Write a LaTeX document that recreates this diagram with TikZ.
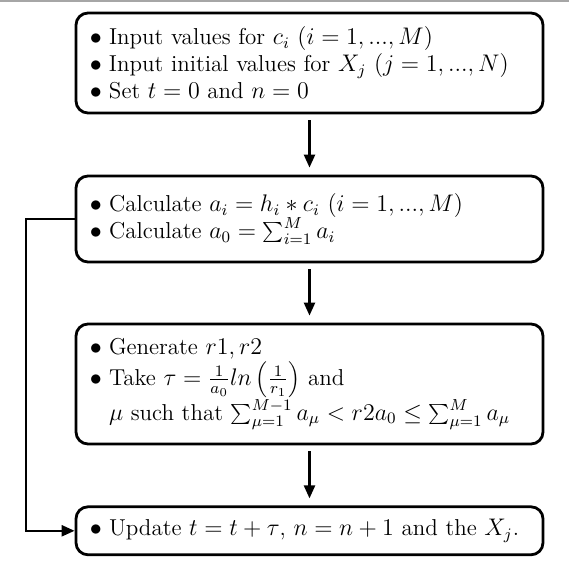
\documentclass[tikz,border=0pt]{standalone}
\usepackage{tikz}
\usetikzlibrary{arrows.meta}
\def\bul{\makebox[9.5pt][l]{$\bullet$}}
\tikzset{
	flowbox/.style={draw, line width=1.4pt, rounded corners=6pt, align=left, text width=219.5pt, inner xsep=7pt, inner ysep=0pt, font=\fontsize{11.5}{13.5}\selectfont},
	flowarrow/.style={line width=1.2pt, -{Triangle[length=6.5pt,width=5.5pt]}, shorten <=3pt, shorten >=3.5pt},
	backarrow/.style={line width=1.2pt, -{Triangle[length=6.5pt,width=5.5pt]}},
}

\begin{document}
\begin{tikzpicture}
		%%%%% START %%%%%
		\useasboundingbox (0,0) rectangle (284.5pt,-281pt);
		\draw[line width=1pt, color=black!35] (0,-0.5pt) -- (284.5pt,-0.5pt);
		
		\node[flowbox, minimum height=50pt] (init) at (154.75pt,-31.5pt) {\bul Input values for $c_i$ $(i=1,...,M)$\\
			\bul Input initial values for $X_j$ $(j=1,...,N)$\\
			\bul Set $t=0$ and $n=0$};
		
		\node[flowbox, minimum height=43pt] (calc) at (154.75pt,-109.5pt) {\bul Calculate $a_i=h_i*c_i$ $(i=1,...,M)$\\
			\bul Calculate $a_0=\sum_{i=1}^{M}a_i$};
		
		\node[flowbox, minimum height=60pt] (pick) at (154.75pt,-192pt) {\bul Generate $r1,r2$\\
			\bul Take $\tau=\frac{1}{a_0}ln\left(\frac{1}{r_1}\right)$ and\\
			\hspace*{9.5pt}$\mu$ such that $\sum_{\mu=1}^{M-1}a_\mu<r2a_0\leq\sum_{\mu=1}^{M}a_\mu$};
		
		\node[flowbox, minimum height=24pt] (update) at (154.75pt,-265.4pt) {\bul Update $t=t+\tau$, $n=n+1$ and the $X_j$.};
		
		\draw[flowarrow] (init) -- (calc);
		\draw[flowarrow] (calc) -- (pick);
		\draw[flowarrow] (pick) -- (update);
		
		% loop back
		\coordinate (back) at (13pt,0);
		\draw[backarrow] (calc.west) -- (calc.west -| back) |- (update.west);
		
		%%%%% END %%%%%
	\end{tikzpicture}
\end{document}
